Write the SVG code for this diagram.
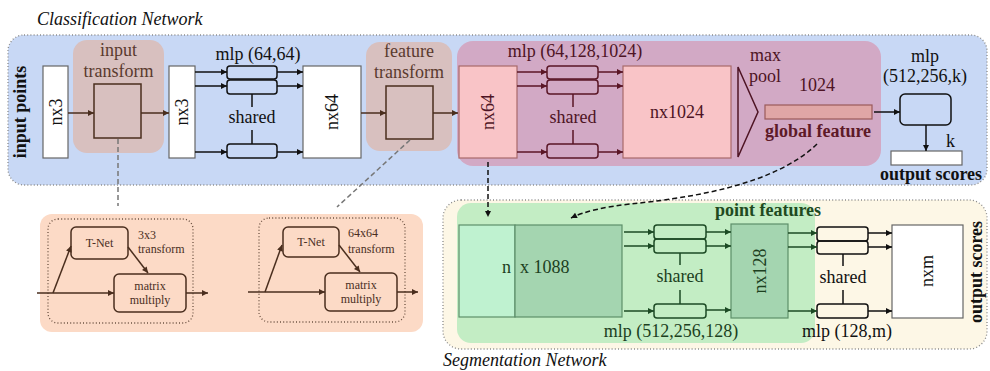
<svg xmlns="http://www.w3.org/2000/svg" width="990" height="371" viewBox="0 0 990 371">
<style>
text{font-family:"Liberation Serif","Times New Roman",serif;font-size:18px;fill:#111}
.it{font-style:italic}
.b{font-weight:bold}
.s{font-size:12px;fill:#4a2e1e}
.c{text-anchor:middle}
.dot{fill:none;stroke:#8a8a8a;stroke-width:1.3;stroke-dasharray:1 2.2}
.k{stroke:#111;stroke-width:1.5;fill:none}
.br{stroke:#4a2e1e;stroke-width:1.5;fill:none}
.mr{stroke:#5a1626;stroke-width:1.5;fill:none}
.gr{stroke:#1c4a24;stroke-width:1.5;fill:none}
.wb{fill:#fff;stroke:#666;stroke-width:1.2}
.tb{fill:#5a3a2e}
.mt{fill:#4e1424}
.gt{fill:#1c3f1e}
</style>
<defs>
<marker id="ak" viewBox="0 0 10 10" refX="10" refY="5" markerWidth="8" markerHeight="6" markerUnits="userSpaceOnUse" orient="auto"><path d="M0,0L10,5L0,10z" fill="#111"/></marker>
<marker id="abr" viewBox="0 0 10 10" refX="10" refY="5" markerWidth="8" markerHeight="6" markerUnits="userSpaceOnUse" orient="auto"><path d="M0,0L10,5L0,10z" fill="#4a2e1e"/></marker>
<marker id="amr" viewBox="0 0 10 10" refX="10" refY="5" markerWidth="8" markerHeight="6" markerUnits="userSpaceOnUse" orient="auto"><path d="M0,0L10,5L0,10z" fill="#5a1626"/></marker>
<marker id="agr" viewBox="0 0 10 10" refX="10" refY="5" markerWidth="8" markerHeight="6" markerUnits="userSpaceOnUse" orient="auto"><path d="M0,0L10,5L0,10z" fill="#1c4a24"/></marker>
</defs>

<!-- backgrounds -->
<g id="classification-panel">
<rect x="8" y="35" width="979" height="150" rx="16" fill="#c8d8f5"/>
<rect x="8" y="35" width="979" height="150" rx="16" class="dot"/>
<text x="37" y="25" class="it">Classification Network</text>
<rect x="73" y="40" width="91" height="113" rx="14" fill="#d8c0bf"/>
<rect x="366" y="42" width="86" height="109" rx="14" fill="#d8c0bf"/>
<rect x="457" y="41" width="424" height="125" rx="16" fill="#d2a9c5"/>
</g>
<g id="transform-panel">
<rect x="40" y="214" width="383" height="118" rx="12" fill="#fcdac6"/>
<rect x="48" y="219" width="145" height="104" rx="10" class="dot" style="stroke:#6a5040"/>
<rect x="259" y="218" width="146" height="104" rx="10" class="dot" style="stroke:#6a5040"/>
</g>
<g id="segmentation-panel">
<rect x="443" y="200" width="544" height="149" rx="18" fill="#fdf7e6"/>
<rect x="443" y="200" width="544" height="149" rx="18" class="dot"/>
<rect x="457" y="203" width="358" height="140" rx="14" fill="#c3edc4"/>
<text x="443" y="366" class="it">Segmentation Network</text>
</g>

<!-- nodes -->
<g id="input-points"><text transform="translate(26,112) rotate(-90)" class="b c">input points</text></g>
<g id="nx3-in"><rect x="43" y="66" width="25" height="92" class="wb"/><text transform="translate(62,112) rotate(-90)" class="c">nx3</text></g>
<g id="input-transform"><text x="118.5" y="56" class="c tb">input</text><text x="118.5" y="77" class="c tb">transform</text><rect x="94" y="84" width="47" height="54" class="br"/></g>
<g id="nx3-out"><rect x="169" y="66" width="26" height="92" class="wb"/><text transform="translate(188,112) rotate(-90)" class="c">nx3</text></g>
<g id="mlp1"><text x="258" y="60" class="c">mlp (64,64)</text>
<rect x="227" y="66" width="50" height="13" rx="3" class="k"/><rect x="227" y="80" width="50" height="14" rx="3" class="k"/><rect x="227" y="144" width="50" height="14" rx="3" class="k"/>
<text x="252" y="123" class="c">shared</text></g>
<g id="nx64-white"><rect x="303" y="66" width="58" height="92" class="wb"/><text transform="translate(338,112) rotate(-90)" class="c">nx64</text></g>
<g id="feature-transform"><text x="409" y="57" class="c tb">feature</text><text x="409" y="78" class="c tb">transform</text><rect x="386" y="86" width="47" height="53" class="br"/></g>
<g id="nx64-pink"><rect x="459" y="66" width="58" height="92" fill="#f9c4c7" stroke="#a86a6a" stroke-width="1.2"/><text transform="translate(494,112) rotate(-90)" class="c mt">nx64</text></g>
<g id="mlp2"><text x="575" y="57" class="c mt">mlp (64,128,1024)</text>
<rect x="547" y="66" width="51" height="13" rx="3" class="mr"/><rect x="547" y="80" width="51" height="14" rx="3" class="mr"/><rect x="547" y="144" width="51" height="14" rx="3" class="mr"/>
<text x="573" y="123" class="c mt">shared</text></g>
<g id="nx1024"><rect x="623" y="66" width="108" height="92" fill="#f9c4c7" stroke="#a86a6a" stroke-width="1.2"/><text x="677" y="118" class="c mt">nx1024</text></g>
<g id="maxpool"><path d="M738,67L758,112L738,157Z" fill="none" stroke="#4e1424" stroke-width="1.5"/><text x="750" y="61" class="mt">max</text><text x="749" y="82" class="mt">pool</text></g>
<g id="global-feature"><text x="817" y="91" class="c mt">1024</text><rect x="765" y="105" width="107" height="14" fill="#e0a6a6" stroke="#9a5a5a" stroke-width="1.2"/><text x="818" y="137" class="c b" style="fill:#5e1a28">global feature</text></g>
<g id="mlp-cls"><text x="925" y="62" class="c">mlp</text><text x="925" y="82" class="c">(512,256,k)</text><rect x="900" y="94" width="51" height="31" rx="5" class="k"/></g>
<g id="output-cls"><text x="946" y="147">k</text><rect x="891" y="151" width="71" height="14" class="wb"/><text x="931" y="180" class="c b">output scores</text></g>

<g id="tnet1"><rect x="71" y="227" width="57" height="32" rx="5" class="br"/><text x="99.5" y="247" class="s c">T-Net</text><text x="138" y="239" class="s">3x3</text><text x="138" y="253" class="s">transform</text></g>
<g id="matmul1"><rect x="114" y="274" width="72" height="38" rx="5" class="br"/><text x="150" y="290" class="s c">matrix</text><text x="150" y="304" class="s c">multiply</text></g>
<g id="tnet2"><rect x="283" y="227" width="56" height="30" rx="5" class="br"/><text x="311" y="246" class="s c">T-Net</text><text x="348" y="237" class="s">64x64</text><text x="348" y="253" class="s">transform</text></g>
<g id="matmul2"><rect x="325" y="273" width="72" height="38" rx="5" class="br"/><text x="361" y="289" class="s c">matrix</text><text x="361" y="303" class="s c">multiply</text></g>

<g id="point-features"><text x="768" y="216" class="c b" style="fill:#1f4a1f">point features</text>
<rect x="459" y="225" width="56" height="92" fill="#bff2d0" stroke="#5e8f6a" stroke-width="1.2"/>
<rect x="515" y="225" width="107" height="92" fill="#a4d5b0" stroke="#5e8f6a" stroke-width="1.2"/>
<text x="511" y="273" class="gt" text-anchor="end">n</text><text x="520" y="273" class="gt">x 1088</text></g>
<g id="mlp3"><rect x="654" y="225" width="52" height="14" rx="3" class="gr"/><rect x="654" y="239" width="52" height="14" rx="3" class="gr"/><rect x="654" y="304" width="52" height="14" rx="3" class="gr"/>
<text x="680" y="282" class="c gt">shared</text><text x="671" y="337" class="c gt">mlp (512,256,128)</text></g>
<g id="nx128"><rect x="731" y="224" width="57" height="94" fill="#a4d5b0" stroke="#5e8f6a" stroke-width="1.2"/><text transform="translate(766,271) rotate(-90)" class="c gt">nx128</text></g>
<g id="mlp4"><rect x="817" y="227" width="51" height="14" rx="3" class="k"/><rect x="817" y="241" width="51" height="13" rx="3" class="k"/><rect x="817" y="304" width="51" height="14" rx="3" class="k"/>
<text x="843" y="283" class="c">shared</text><text x="847" y="337" class="c">mlp (128,m)</text></g>
<g id="nxm"><rect x="892" y="225" width="71" height="93" class="wb"/><text transform="translate(933,271) rotate(-90)" class="c">nxm</text></g>
<g id="output-seg"><text transform="translate(982,272) rotate(-90)" class="c b">output scores</text></g>

<!-- connectors -->
<g id="connectors">
<path d="M68,113H94" class="br" marker-end="url(#abr)"/>
<path d="M141,113H169" class="br" marker-end="url(#abr)"/>
<path d="M361,113H386" class="br" marker-end="url(#abr)"/>
<path d="M433,113H458" class="br" marker-end="url(#abr)"/>
<path d="M195,72H227" class="k" marker-end="url(#ak)"/>
<path d="M195,86H227" class="k" marker-end="url(#ak)"/>
<path d="M195,152H227" class="k" marker-end="url(#ak)"/>
<path d="M277,72H303" class="k" marker-end="url(#ak)"/>
<path d="M277,86H303" class="k" marker-end="url(#ak)"/>
<path d="M277,152H303" class="k" marker-end="url(#ak)"/>
<path d="M252,94V107M252,130V144" class="k" stroke-width="2"/>
<path d="M517,72H547" class="mr" marker-end="url(#amr)"/>
<path d="M517,86H547" class="mr" marker-end="url(#amr)"/>
<path d="M517,152H547" class="mr" marker-end="url(#amr)"/>
<path d="M598,72H623" class="mr" marker-end="url(#amr)"/>
<path d="M598,86H623" class="mr" marker-end="url(#amr)"/>
<path d="M598,152H623" class="mr" marker-end="url(#amr)"/>
<path d="M573,94V107M573,130V144" class="mr" stroke-width="2"/>
<path d="M874,112H900" class="k" marker-end="url(#ak)"/>
<path d="M926,125V151" class="k" marker-end="url(#ak)"/>
<path d="M118,139V206" fill="none" stroke="#777" stroke-width="1.5" stroke-dasharray="5 3"/>
<path d="M410,140L337,207" fill="none" stroke="#777" stroke-width="1.5" stroke-dasharray="5 3"/>
<path d="M488,162V217" class="k" stroke-dasharray="5 3" marker-end="url(#ak)"/>
<path d="M817,144C775,185 690,198 630,204C605,207 585,211 571,218" class="k" stroke-dasharray="5 3" marker-end="url(#ak)"/>
<path d="M37,293H114" class="br" marker-end="url(#abr)"/>
<path d="M53,293L71,246" class="br" marker-end="url(#abr)"/>
<path d="M128,247L148,273" class="br" marker-end="url(#abr)"/>
<path d="M186,293H208" class="br" marker-end="url(#abr)"/>
<path d="M248,292H325" class="br" marker-end="url(#abr)"/>
<path d="M265,292L282,245" class="br" marker-end="url(#abr)"/>
<path d="M339,245L360,272" class="br" marker-end="url(#abr)"/>
<path d="M397,292H418" class="br" marker-end="url(#abr)"/>
<path d="M624,232H654" class="gr" marker-end="url(#agr)"/>
<path d="M624,246H654" class="gr" marker-end="url(#agr)"/>
<path d="M624,311H654" class="gr" marker-end="url(#agr)"/>
<path d="M706,232H731" class="gr" marker-end="url(#agr)"/>
<path d="M706,246H731" class="gr" marker-end="url(#agr)"/>
<path d="M706,310H731" class="gr" marker-end="url(#agr)"/>
<path d="M680,253V265M680,290V304" class="gr" stroke-width="2"/>
<path d="M788,233H817" class="gr" marker-end="url(#agr)"/>
<path d="M788,247H817" class="gr" marker-end="url(#agr)"/>
<path d="M788,311H817" class="gr" marker-end="url(#agr)"/>
<path d="M868,233H892" class="k" marker-end="url(#ak)"/>
<path d="M868,247H892" class="k" marker-end="url(#ak)"/>
<path d="M868,311H892" class="k" marker-end="url(#ak)"/>
<path d="M843,254V266M843,290V304" class="k" stroke-width="2"/>
</g>
</svg>
